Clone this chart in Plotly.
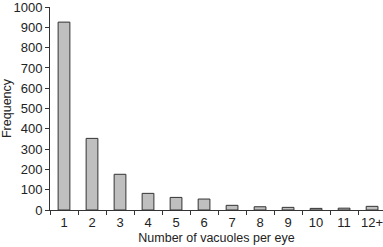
import plotly.graph_objects as go

categories = ["1", "2", "3", "4", "5", "6", "7", "8", "9", "10", "11", "12+"]
frequency = [926, 353, 176, 82, 62, 54, 23, 16, 13, 8, 9, 18]
y_ticks = [0, 100, 200, 300, 400, 500, 600, 700, 800, 900, 1000]

fig = go.Figure(go.Bar(
    x=categories, y=frequency,
    width=0.42,
    marker=dict(color="#bfbfbf", line=dict(color="#333333", width=1)),
))

font = dict(family="Liberation Sans, Arial, sans-serif", size=13, color="#222")
fig.update_layout(
    width=383, height=247,
    margin=dict(l=50, r=0, t=7, b=37, autoexpand=False),
    paper_bgcolor="white", plot_bgcolor="white",
    font=font, showlegend=False,
)
fig.update_xaxes(
    type="category", range=[-0.5, 11.39], automargin=False,
    showline=True, linecolor="#333", linewidth=1,
    ticks="outside", tickson="boundaries", ticklen=4, tickcolor="#333",
    showgrid=False, ticklabeloverflow="allow",
    title=dict(text="Number of vacuoles per eye", standoff=4, font=dict(size=12.5)),
)
fig.update_yaxes(
    range=[0, 1000.5], tickvals=y_ticks, automargin=False,
    showline=True, linecolor="#333", linewidth=1,
    ticks="outside", ticklen=4, tickcolor="#333",
    showgrid=False, zeroline=False, ticklabeloverflow="allow",
    title=dict(text="Frequency", standoff=2, font=dict(size=12.5)),
)
fig.write_html(
    "out.html",
    config={"displayModeBar": False},
    post_script="document.body.style.margin='0';document.body.style.overflow='hidden';",
)
